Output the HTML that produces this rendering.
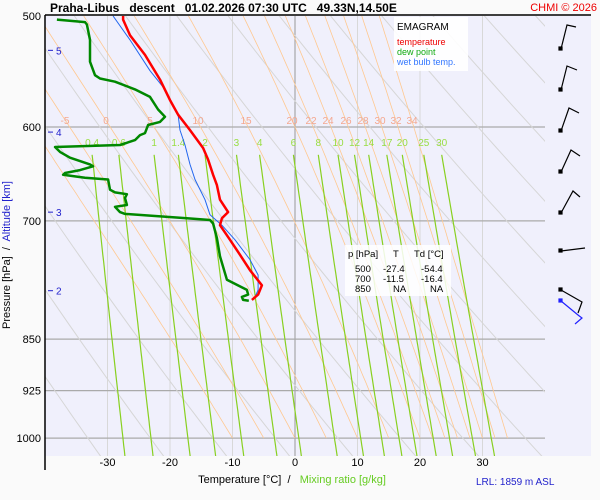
<!DOCTYPE html>
<html><head><meta charset="utf-8"><style>
body{margin:0;background:#fafafa;}
svg{display:block;font-family:"Liberation Sans",sans-serif;}
</style></head><body>
<svg id="c" width="600" height="500">
<rect x="0" y="0" width="600" height="500" fill="#fafafa"/>
<rect x="45" y="16" width="546" height="440" fill="#f0f0fc"/>
<defs><clipPath id="cl"><rect x="45" y="16" width="500" height="440"/></clipPath></defs>
<g id="grid"></g>
<g id="thermo" clip-path="url(#cl)"></g>
<g id="labels"></g>
<g id="profiles"></g>
<line x1="45" y1="15" x2="591" y2="15" stroke="#000" stroke-width="1.5"/>
<line x1="45" y1="15" x2="45" y2="470" stroke="#000" stroke-width="1.5"/>
<text x="50" y="12" font-size="12" font-weight="bold">Praha-Libus&#160;&#160; descent&#160;&#160; 01.02.2026 07:30 UTC&#160;&#160; 49.33N,14.50E</text>
<text x="597" y="11" font-size="11" fill="#e00" text-anchor="end">CHMI © 2026</text>
<g>
<rect x="394" y="17" width="74" height="54" fill="#fff" opacity="0.9"/>
<text x="397" y="30" font-size="10">EMAGRAM</text>
<text x="397" y="45" font-size="9" fill="#e00">temperature</text>
<text x="397" y="55" font-size="9" fill="#1a1">dew point</text>
<text x="397" y="65" font-size="9" fill="#37f">wet bulb temp.</text>
</g>
<g font-size="9.5">
<rect x="345" y="245" width="106" height="51" fill="#fff" opacity="0.85"/>
<text x="348" y="257">p [hPa]</text><text x="393" y="257">T</text><text x="414" y="257">Td [°C]</text>
<text x="355" y="272">500</text><text x="383" y="272">-27.4</text><text x="421" y="272">-54.4</text>
<text x="355" y="282">700</text><text x="383" y="282">-11.5</text><text x="421" y="282">-16.4</text>
<text x="355" y="292">850</text><text x="393" y="292">NA</text><text x="430" y="292">NA</text>
</g>
<text x="10" y="255" font-size="11" transform="rotate(-90 10 255)" text-anchor="middle">Pressure [hPa]&#160; /&#160; <tspan fill="#22c">Altitude [km]</tspan></text>
<text x="292" y="483" font-size="11" text-anchor="middle">Temperature [°C]&#160; /&#160;&#160; <tspan fill="#6c2">Mixing ratio [g/kg]</tspan></text>
<text x="476" y="485" font-size="10" fill="#22c">LRL: 1859 m ASL</text>
<g id="barbs" stroke="#000" stroke-width="1.2" fill="none">
<polyline points="561,49 567,25 576,27"/><rect x="559" y="47" width="3" height="3" fill="#000"/>
<polyline points="561,90 567,66 577,70"/><rect x="559" y="88" width="3" height="3" fill="#000"/>
<polyline points="561,131 569,108 579,113"/><rect x="559" y="129" width="3" height="3" fill="#000"/>
<polyline points="561,172 571,150 580,156"/><rect x="559" y="170" width="3" height="3" fill="#000"/>
<polyline points="561,213 573,191 580,197"/><rect x="559" y="211" width="3" height="3" fill="#000"/>
<polyline points="561,251 585,248"/><rect x="559" y="249" width="3" height="3" fill="#000"/>
<polyline points="561,290 582,302 578,313"/><rect x="559" y="288" width="3" height="3" fill="#000"/>
<polyline points="561,301 578,315 582,318 575,324" stroke="#22f"/><rect x="559" y="299" width="3" height="3" fill="#22f" stroke="#22f"/>
</g>
</svg>
<script>
const pressureTicks=[500,600,700,850,925,1000];
const tempTicks=[-30,-20,-10,0,10,20,30];
const altKm=[5,4,3,2];
const altP=[529,605,690,785];
const mixRatios=[0.4,0.6,1,1.4,2,3,4,6,8,10,12,14,17,20,25,30];
const thetaW=[-10,-5,0,5,10,15,20,22,24,26,28,30,32,34];
const thetaLabels=["-5","0","5","10","15","20","22","24","26","28","30","32","34"];
const thetaDry=[230,240,250,260,270,280,290,300,310,320,330,340,350,360,370,380,390,400,410,420,430];
const tempP=[500,503,516,533,555,574,588,603,621,633,649,660,676,690,697,705,722,740,759,778,790,797];
const tempT=[-27.5,-27.5,-26.4,-24,-21.6,-20,-18.7,-16.8,-14.7,-13.9,-13.1,-12.5,-12,-10.7,-11.7,-12,-10.4,-8.8,-7.2,-5.3,-5.9,-6.9];
const dewP=[503,505,507,520,539,551,554,557,564,571,583,590,595,598,606,608,613,618,620,625,631,638,640,644,647,649,652,654,665,668,670,674,682,684,690,692,697,699,703,720,742,771,784,790,793,797,798];
const dewT=[-38.1,-33.6,-33.3,-32.8,-32.8,-32,-31.2,-28.8,-25.6,-23.2,-21.9,-20.8,-21.6,-23.5,-24,-24.8,-25.6,-28,-38.4,-37.6,-36,-32.8,-32.3,-34.4,-36.8,-37.1,-33.6,-29.9,-29.6,-28.8,-26.9,-27.2,-26.9,-28.8,-28,-27.2,-17.3,-13.6,-13.1,-12.5,-12,-10.9,-7.7,-7.5,-8.5,-8.3,-7.4];
const wetP=[500,520,547,564,588,603,618,638,654,676,693,705,722,746,765,784,793];
const wetT=[-29.1,-26.4,-23.2,-20.8,-18.7,-18.4,-17.6,-16.8,-16,-14.4,-13.6,-11.7,-9.6,-7.2,-5.9,-5.9,-6.4];

const NS="http://www.w3.org/2000/svg";
const X=t=>295+6.25*t;
const Y=p=>16+609*Math.log(p/500);
function mk(tag,attrs,parent){const e=document.createElementNS(NS,tag);for(const k in attrs)e.setAttribute(k,attrs[k]);parent.appendChild(e);return e;}
const grid=document.getElementById('grid'),th=document.getElementById('thermo'),lab=document.getElementById('labels'),pr=document.getElementById('profiles');
tempTicks.forEach(t=>{
 const l=mk('line',{x1:X(t),y1:16,x2:X(t),y2:456,stroke:t===0?'#999':'#d8d8d8','stroke-width':1},grid);
 
 
 const tx=mk('text',{x:X(t),y:466,'font-size':11,'text-anchor':'middle'},lab);tx.textContent=t;
 
 
});
thetaDry.forEach(tk=>{
 let pts=[];for(let p=480;p<=1060;p+=10){pts.push(X(tk*Math.pow(p/1000,0.286)-273.15).toFixed(1)+','+Y(p).toFixed(1));}
 const l=mk('polyline',{points:pts.join(' '),fill:'none',stroke:'#d6d6d6','stroke-width':1},th);
 
 
});
function es(t){return 6.112*Math.exp(17.67*t/(t+243.5));}
thetaW.forEach((tw,i)=>{
 let T=tw+273.15,p=1000,pts=[];
 while(p>=480){
  pts.push(X(T-273.15).toFixed(1)+','+Y(p).toFixed(1));
  const e=es(T-273.15),rs=0.622*e/(p-e),L=2.5e6,Rd=287,cp=1005;
  const dTdp=(Rd*T+L*rs)/(p*(cp+L*L*rs*0.622/(Rd*T*T)));
  T-=dTdp*5;p-=5;
 }
 const l=mk('polyline',{points:pts.join(' '),fill:'none',stroke:'#ffc890','stroke-width':0.8},th);
 
 
});
const moistLabelX=[65,106,150,198,246,292,311,328,346,363,380,396,412];
thetaLabels.forEach((s,i)=>{const tx=mk('text',{x:moistLabelX[i],y:124,'font-size':10,fill:'#f4a890','text-anchor':'middle'},lab);tx.textContent=s;
 
 });
function tdFromE(e){const a=Math.log(e/6.112);return 243.5*a/(17.67-a);}
mixRatios.forEach(w=>{
 let pts=[];for(let p=628;p<=1060;p+=8){const e=w*p/(622+w);pts.push(X(tdFromE(e)).toFixed(1)+','+Y(p).toFixed(1));}
 const l=mk('polyline',{points:pts.join(' '),fill:'none',stroke:'#88d020','stroke-width':1.2},th);
 
 
 const e=w*628/(622+w);
 const tx=mk('text',{x:X(tdFromE(e)),y:146,'font-size':10,fill:'#99dd44','text-anchor':'middle'},lab);tx.textContent=w;
 
 
});
pressureTicks.forEach(p=>{
 if(p>500){const l=mk('line',{x1:45,y1:Y(p),x2:545,y2:Y(p),stroke:'#aaa','stroke-width':1.2},grid);
 
 }
 const tx=mk('text',{x:41,y:Y(p)+4,'font-size':11,'text-anchor':'end'},lab);tx.textContent=p;
 
 
});
altKm.forEach((k,i)=>{
 const y=Y(altP[i]);
 mk('line',{x1:48,y1:y,x2:53,y2:y,stroke:'#22c'},lab);
 const tx=mk('text',{x:56,y:y+4,'font-size':10,fill:'#22c'},lab);tx.textContent=k;
 
 
});
function prof(P,T,color,w,name){
 const pts=P.map((p,i)=>X(T[i]).toFixed(1)+','+Y(p).toFixed(1)).join(' ');
 const l=mk('polyline',{points:pts,fill:'none',stroke:color,'stroke-width':w,'stroke-linejoin':'round'},pr);
 
 
}
prof(dewP,dewT,'#080',2.5,'dewpoint-line');
prof(wetP,wetT,'#2266ee',1,'wet-bulb-line');
prof(tempP,tempT,'#f00',2.5,'temperature-line');
</script>
</body></html>
